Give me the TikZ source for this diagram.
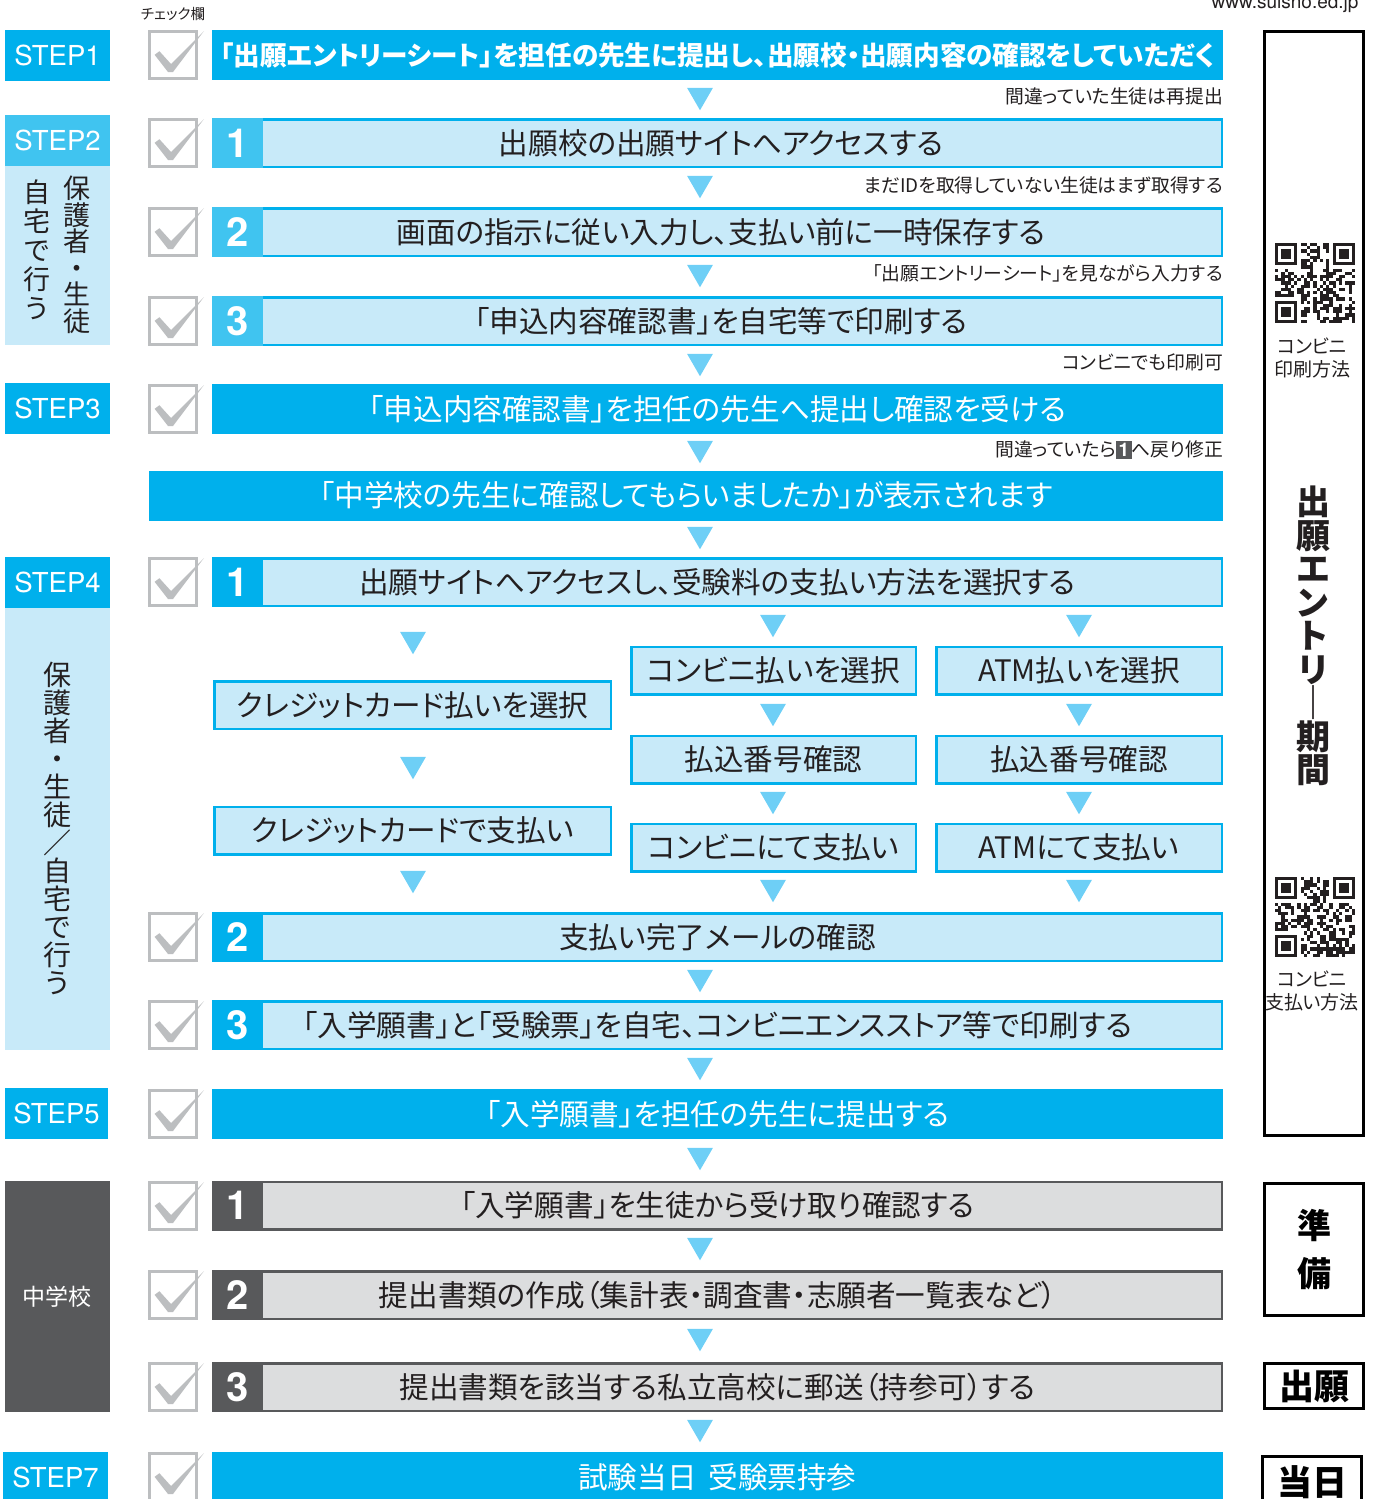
\documentclass[tikz,border=0pt]{standalone}
\usepackage{fontspec}
\setmainfont{Noto Sans CJK JP}[RawFeature=+palt]
\newfontfamily\stepfont{TeX Gyre Heros}
\usetikzlibrary{positioning,shapes.geometric}

\definecolor{hotblue}{RGB}{0,176,236}
\definecolor{midblue}{RGB}{64,196,240}
\definecolor{paleblue}{RGB}{200,234,249}
\definecolor{triblue}{RGB}{110,207,246}
\definecolor{boxgray}{RGB}{220,221,222}
\definecolor{schoolgray}{RGB}{88,89,91}
\definecolor{chkgray}{RGB}{188,190,192}
\definecolor{inkblack}{RGB}{35,31,32}

\newcommand\rowfont{\fontsize{29.6}{31}\selectfont}
\newcommand\notefont{\fontsize{18.8}{20}\selectfont}

\begin{document}
\begin{tikzpicture}[x=1pt, y=-1pt,
    stepbox/.style={fill=hotblue, text=white, minimum width=105, minimum height=51, inner sep=0pt, font=\stepfont\fontsize{27.5}{27.5}\selectfont},
    panel/.style={fill=paleblue, minimum width=105, inner sep=0pt},
    chkbox/.style={draw=chkgray, line width=3pt, fill=white, minimum size=47, inner sep=0pt},
    rowbox/.style={draw=hotblue, fill=paleblue, line width=2.5pt, minimum width=1008.5, minimum height=47.5, inner sep=0pt, text=inkblack, font=\rowfont},
    hotrow/.style={fill=hotblue, minimum width=1011, minimum height=50, inner sep=0pt, text=white, font=\rowfont},
    grayrow/.style={rowbox, draw=schoolgray, fill=boxgray},
    subbox/.style={rowbox, minimum width=#1},
    numcell/.style={fill=#1, text=white, minimum width=51, minimum height=50, inner sep=0pt, font=\stepfont\bfseries\fontsize{40}{40}\selectfont},
    tri/.style={regular polygon, regular polygon sides=3, shape border rotate=180, fill=triblue, minimum size=30, inner sep=0pt, yshift=3.75pt},
    note/.style={anchor=east, inner sep=0pt, text=inkblack, font=\notefont},
    vtext/.style={align=center, inner sep=0pt, text=inkblack},
    perbox/.style={draw=black, line width=3pt, minimum width=99, inner sep=0pt}
  ]
    \useasboundingbox (0,0) rectangle (1381,1499);

    % Header
    \node[font=\fontsize{14.5}{14.5}\selectfont, text=inkblack] (chklabel) at (173,14) {チェック欄};
    \node[anchor=base east, font=\stepfont\fontsize{19}{19}\selectfont, text=inkblack] (url) at (1362,9) {www.suisho.ed.jp};

    % Step labels
    \node[stepbox] (step1) at (57.5,55.5) {STEP1};
    \node[stepbox, fill=midblue] (step2) at (57.5,140) {STEP2};
    \node[panel, minimum height=179] (home2) at (57.5,255.5) {};
    \node[vtext, font=\fontsize{27}{26.5}\selectfont] (who2) at (77,255) {保\\護\\者\\・\\生\\徒};
    \node[vtext, font=\fontsize{27}{29}\selectfont] (where2) at (37,250) {自\\宅\\で\\行\\う};
    \node[stepbox] (step3) at (57.5,408) {STEP3};
    \node[stepbox] (step4) at (57.5,582.5) {STEP4};
    \node[panel, minimum height=442] (home4) at (57.5,829) {};
    \node[vtext, font=\fontsize{28}{28}\selectfont] (who4) at (57,828) {保\\護\\者\\・\\生\\徒\\／\\自\\宅\\で\\行\\う};
    \node[stepbox, minimum width=103] (step5) at (56.5,1113) {STEP5};
    \node[fill=schoolgray, text=white, minimum width=105, minimum height=231, inner sep=0pt, font=\fontsize{23}{23}\selectfont] (school) at (57.5,1296.5) {中学校};
    \node[stepbox] (step7) at (55.5,1477.5) {STEP7};

    % Check boxes
    \foreach \yy [count=\k] in {55,143,232,321,409,582,937,1025,1114,1206,1295,1387,1477} {
      \node[chkbox] (chk\k) at (173,\yy) {};
      \fill[chkgray] ([shift={(-18.4,-0.2)}]chk\k.center) -- ++(4.8,-3.6) -- ([shift={(-2,9)}]chk\k.center)
        -- ([shift={(31,-24)}]chk\k.center) -- ([shift={(0,17)}]chk\k.center) -- ([shift={(-5,17)}]chk\k.center) -- cycle;
    }

    % Rows
    \node[hotrow, font=\bfseries\fontsize{26.6}{28}\selectfont] (r1) at (717.5,55) {「出願エントリーシート」を担任の先生に提出し、出願校・出願内容の確認をしていただく};
    \node[rowbox] (r21) at (717.5,143) {\hspace*{7pt}出願校の出願サイトへアクセスする};
    \node[rowbox] (r22) at (717.5,232) {\hspace*{7pt}画面の指示に従い入力し、支払い前に一時保存する};
    \node[rowbox] (r23) at (717.5,321) {\hspace*{7pt}「申込内容確認書」を自宅等で印刷する};
    \node[hotrow] (r3) at (717.5,409) {「申込内容確認書」を担任の先生へ提出し確認を受ける};
    \node[hotrow, minimum width=1074] (confirm) at (686,495.5) {「中学校の先生に確認してもらいましたか」が表示されます};
    \node[rowbox] (r41) at (717.5,582) {出願サイトへアクセスし、受験料の支払い方法を選択する};
    \node[rowbox] (r42) at (717.5,937) {支払い完了メールの確認};
    \node[rowbox] (r43) at (717.5,1025) {「入学願書」と「受験票」を自宅、コンビニエンスストア等で印刷する};
    \node[hotrow] (r5) at (717.5,1114) {「入学願書」を担任の先生に提出する};
    \node[grayrow] (r61) at (717.5,1205.5) {「入学願書」を生徒から受け取り確認する};
    \node[grayrow] (r62) at (717.5,1295) {提出書類の作成（集計表・調査書・志願者一覧表など）};
    \node[grayrow] (r63) at (717.5,1387) {提出書類を該当する私立高校に郵送（持参可）する};
    \node[hotrow] (r7) at (717.5,1477) {試験当日\hspace{0.4em}受験票持参};

    % Number cells
    \node[numcell=midblue] (n21) at (237.5,143) {1};
    \node[numcell=midblue] (n22) at (237.5,232) {2};
    \node[numcell=midblue] (n23) at (237.5,321) {3};
    \node[numcell=hotblue] (n41) at (237.5,582) {1};
    \node[numcell=hotblue] (n42) at (237.5,937) {2};
    \node[numcell=hotblue] (n43) at (237.5,1025) {3};
    \node[numcell=schoolgray] (n61) at (237.5,1205.5) {1};
    \node[numcell=schoolgray] (n62) at (237.5,1295) {2};
    \node[numcell=schoolgray] (n63) at (237.5,1387) {3};

    % Payment branches
    \node[subbox=396.5] (card1) at (412.5,705) {クレジットカード払いを選択};
    \node[subbox=396.5] (card2) at (412.5,830.5) {クレジットカードで支払い};
    \node[subbox=284.5] (conv1) at (773.5,670.5) {コンビニ払いを選択};
    \node[subbox=284.5] (conv2) at (773.5,759.5) {払込番号確認};
    \node[subbox=284.5] (conv3) at (773.5,847.5) {コンビニにて支払い};
    \node[subbox=285.5] (atm1) at (1079,670.5) {ATM払いを選択};
    \node[subbox=285.5] (atm2) at (1079,759.5) {払込番号確認};
    \node[subbox=285.5] (atm3) at (1079,847.5) {ATMにて支払い};

    % Arrows
    \foreach \xx/\yy [count=\k] in {700/99, 700/187, 700/276, 700/365, 700/452, 700/538,
        413/643, 413/768, 413/882, 773/626, 773/715, 773/803, 773/891, 1079/626, 1079/715, 1079/803, 1079/891,
        700/981, 700/1069, 700/1159, 700/1249, 700/1340, 700/1431}
      \node[tri] (tri\k) at (\xx,\yy) {};

    % Notes
    \node[note] (note1) at (1223,96) {間違っていた生徒は再提出};
    \node[note] (note2) at (1223,185) {まだIDを取得していない生徒はまず取得する};
    \node[note] (note3) at (1223,273) {「出願エントリーシート」を見ながら入力する};
    \node[note] (note4) at (1223,362) {コンビニでも印刷可};
    \node[note] (note5) at (1223,450) {間違っていたら{\fboxsep=2.5pt\colorbox{schoolgray}{\textcolor{white}{\stepfont\bfseries 1}}}へ戻り修正};

    % Periods
    \node[perbox, minimum height=1104] (period) at (1314,583.5) {};
    \node[vtext, font=\bfseries\fontsize{34}{33.5}\selectfont] (kikan) at (1313,636) {出\\願\\エ\\ン\\ト\\リ\\｜\\期\\間};
    \node[vtext, font=\fontsize{19}{23}\selectfont] (qrtext1) at (1312,358) {コンビニ\\印刷方法};
    \node[vtext, font=\fontsize{19}{23}\selectfont] (qrtext2) at (1312,991) {コンビニ\\支払い方法};
    \node[perbox, minimum height=132, font=\bfseries\fontsize{34}{48}\selectfont, align=center] (prep) at (1314,1249.5) {準\\備};
    \node[perbox, minimum height=45, font=\bfseries\fontsize{35}{35}\selectfont] (apply) at (1314,1386) {出願};
    \node[perbox, minimum height=52, font=\bfseries\fontsize{35}{35}\selectfont] (exam) at (1312,1482) {当日};

    % QR codes
    \pgfmathsetseed{1381}
    \foreach \qx/\qy in {1275/243, 1275/877} {
      \foreach \i in {0,...,24} {
        \foreach \j in {0,...,24} {
          \pgfmathrandominteger{\bit}{0}{1}
          \ifnum\bit=1 \fill[inkblack] (\qx+3.2*\i,\qy+3.2*\j) rectangle ++(3.2,3.2); \fi
        }
      }
      \foreach \fa/\fb in {0/0, 18/0, 0/18} {
        \fill[white] (\qx+3.2*\fa-3.2,\qy+3.2*\fb-3.2) rectangle ++(28.8,28.8);
        \fill[inkblack] (\qx+3.2*\fa,\qy+3.2*\fb) rectangle ++(22.4,22.4);
        \fill[white] (\qx+3.2*\fa+3.2,\qy+3.2*\fb+3.2) rectangle ++(16,16);
        \fill[inkblack] (\qx+3.2*\fa+6.4,\qy+3.2*\fb+6.4) rectangle ++(9.6,9.6);
      }
    }
\end{tikzpicture}
\end{document}
